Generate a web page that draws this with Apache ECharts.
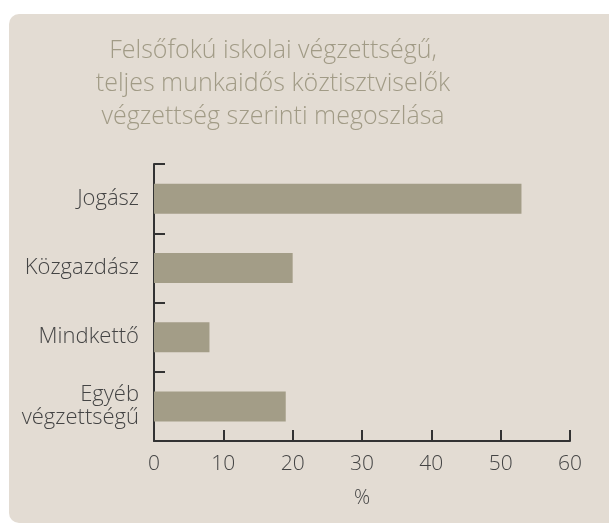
<!DOCTYPE html>
<html>
<head>
<meta charset="utf-8">
<script src="https://cdn.jsdelivr.net/npm/echarts@6/dist/echarts.min.js"></script>
<style>
html,body{margin:0;padding:0;background:#ffffff;}
#chart{width:609px;height:523px;}
</style>
</head>
<body>
<div id="chart"></div>
<script>
const titleText = 'Felsőfokú iskolai végzettségű,\nteljes munkaidős köztisztviselők\nvégzettség szerinti megoszlása';
const categories = ['Jogász', 'Közgazdász', 'Mindkettő', 'Egyéb\nvégzettségű'];
const values = [53, 20, 8, 19];
const xTicks = [0, 10, 20, 30, 40, 50, 60];
const xAxisName = '%';

const FONT = '"Open Sans"';
const chart = echarts.init(document.getElementById('chart'), null, {renderer: 'canvas'});
chart.setOption({
  backgroundColor: '#ffffff',
  animation: false,
  graphic: [{
    type: 'rect', z: -10, silent: true,
    shape: {x: 9, y: 14, width: 640, height: 509, r: [10, 0, 0, 10]},
    style: {fill: '#e3dcd3'}
  }],
  title: {
    text: titleText,
    left: 268, top: 29,
    textAlign: 'center',
    textStyle: {fontFamily: FONT, fontWeight: 300, fontSize: 25, lineHeight: 33, color: '#a19b86'}
  },
  grid: {left: 154, right: 39, top: 164, bottom: 82, containLabel: false},
  xAxis: {
    type: 'value', min: xTicks[0], max: xTicks[xTicks.length - 1], interval: 10,
    name: xAxisName, nameLocation: 'middle', nameGap: 47,
    nameTextStyle: {fontFamily: FONT, fontWeight: 300, fontSize: 20, color: '#444'},
    axisLine: {show: true, lineStyle: {color: '#333', width: 2}},
    axisTick: {show: true, inside: true, length: 11, lineStyle: {color: '#333', width: 2}},
    axisLabel: {fontFamily: FONT, fontWeight: 300, fontSize: 21, color: '#444', margin: 13},
    splitLine: {show: false}
  },
  yAxis: {
    type: 'category', data: categories, inverse: true,
    axisLine: {show: true, lineStyle: {color: '#333', width: 2}},
    axisTick: {show: true, inside: true, length: 11, lineStyle: {color: '#333', width: 2}},
    axisLabel: {fontFamily: FONT, fontWeight: 300, fontSize: 22, lineHeight: 23, color: '#444', margin: 15, align: 'right'}
  },
  series: [{
    type: 'bar', data: values, barWidth: 30,
    itemStyle: {color: '#a39d87'}
  }]
});
</script>
</body>
</html>
